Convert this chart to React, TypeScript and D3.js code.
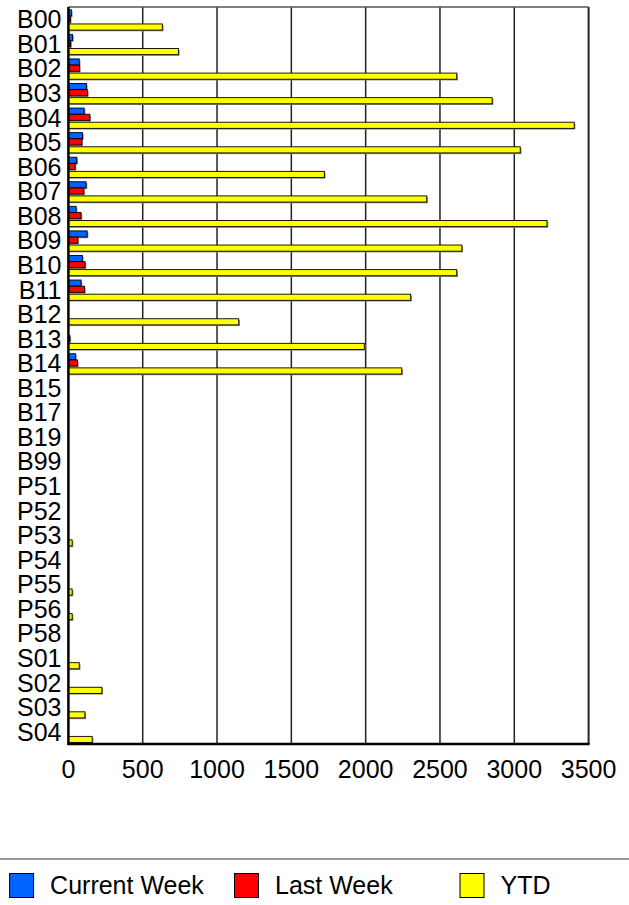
import React from "react";
import * as d3 from "d3";

const categories = ["B00","B01","B02","B03","B04","B05","B06","B07","B08","B09","B10","B11","B12","B13","B14","B15","B17","B19","B99","P51","P52","P53","P54","P55","P56","P58","S01","S02","S03","S04"];
const currentWeek = [20,28,73,121,106,95,56,119,52,126,94,85,0,0,48,0,0,0,0,0,0,0,0,0,0,0,0,0,0,0];
const lastWeek = [13,15,75,128,144,90,45,103,85,63,112,108,0,10,61,0,0,0,0,0,0,0,0,0,0,0,0,0,0,0];
const ytd = [632,740,2613,2851,3403,3040,1722,2411,3220,2647,2613,2303,1146,1991,2243,0,0,0,0,0,0,25,0,25,25,0,73,225,111,160];
const xTicks = [0,500,1000,1500,2000,2500,3000,3500];
const seriesNames = ["Current Week","Last Week","YTD"];
const seriesColors = ["#0062ff","#ff0000","#ffff00"];

const W = 629, H = 905;
const L = 68.4, R = 588.6, T = 7, B = 744;
const FONT = "Arial, 'Liberation Sans', sans-serif";

export default function App() {
  const x = d3.scaleLinear().domain([0, 3500]).range([L, R]);
  const y = d3.scaleBand<string>().domain(categories).range([T, B]).padding(0);
  const bw = y.bandwidth();
  const offsets = [0.114, 0.366, 0.69];
  const bh = bw * 0.25;
  const series = [currentWeek, lastWeek, ytd];

  return (
    <svg width={W} height={H} style={{ position: "absolute", left: 0, top: 0, background: "#fff" }} fontFamily={FONT}>
      <rect x={0} y={0} width={W} height={H} fill="#fff" />
      {/* gridlines */}
      {xTicks.slice(1).map((t) => (
        <line key={"g" + t} x1={x(t)} x2={x(t)} y1={T} y2={B} stroke="#222" strokeWidth={t === 3500 ? 2 : 1.5} />
      ))}
      <line x1={L} x2={R} y1={T} y2={T} stroke="#555" strokeWidth={1.5} />
      {/* bars */}
      {series.map((vals, si) =>
        categories.map((c, i) => {
          const v = vals[i];
          if (!v) return null;
          const y0 = (y(c) as number) + offsets[si] * bw;
          const w = x(v) - x(0);
          return (
            <g key={si + "-" + c}>
              <rect x={x(0) + 1.2} y={y0 + 1.2} width={w} height={bh} fill="#888" />
              <rect x={x(0)} y={y0} width={w} height={bh} fill={seriesColors[si]} stroke="#000" strokeWidth={0.9} />
            </g>
          );
        })
      )}
      {/* axes */}
      <line x1={L} x2={L} y1={T} y2={B + 1} stroke="#000" strokeWidth={2.5} />
      <line x1={L - 1} x2={R + 1} y1={B} y2={B} stroke="#000" strokeWidth={2.5} />
      {categories.map((c) => (
        <text key={"l" + c} x={61.5} y={(y(c) as number) + bw / 2} dy="0.36em" textAnchor="end" fontSize={25} fill="#000">
          {c}
        </text>
      ))}
      {xTicks.map((t) => (
        <text key={"t" + t} x={x(t)} y={778} textAnchor="middle" fontSize={25} fill="#000">
          {t}
        </text>
      ))}
      {/* legend */}
      <line x1={0} x2={W} y1={859} y2={859} stroke="#777" strokeWidth={1.5} />
      {seriesNames.map((n, i) => {
        const lx = [9.6, 234.5, 460][i];
        return (
          <g key={"lg" + n}>
            <rect x={lx} y={873.5} width={24} height={24} fill={seriesColors[i]} stroke="#000" strokeWidth={1} />
            <text x={lx + 40.5} y={894} fontSize={25} fill="#000">{n}</text>
          </g>
        );
      })}
    </svg>
  );
}
